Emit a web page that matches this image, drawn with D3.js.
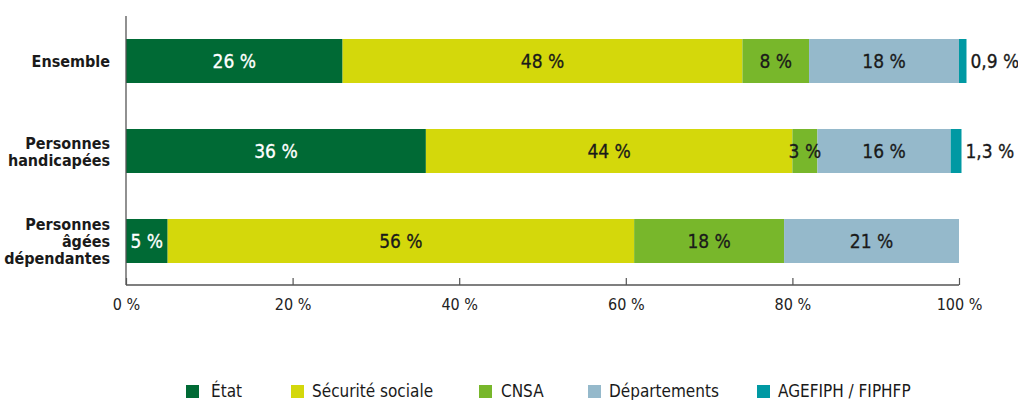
<!DOCTYPE html>
<html><head><meta charset="utf-8">
<script src="https://cdn.jsdelivr.net/npm/d3@7/dist/d3.min.js"></script>
<style>
html,body{margin:0;padding:0;background:#fff;}
svg{display:block;font-family:"DejaVu Sans Condensed","DejaVu Sans",sans-serif;}
</style></head>
<body><svg id="c" width="1018" height="400"></svg>
<script>
const categories = [["Ensemble"], ["Personnes", "handicapées"], ["Personnes", "âgées", "dépendantes"]];
const series = ["État", "Sécurité sociale", "CNSA", "Départements", "AGEFIPH / FIPHFP"];
const etat = [26, 36, 5];
const securite = [48, 44, 56];
const cnsa = [8, 3, 18];
const departements = [18, 16, 21];
const agefiph = [0.9, 1.3, 0];
const valueLabels = [["26 %", "48 %", "8 %", "18 %", "0,9 %"], ["36 %", "44 %", "3 %", "16 %", "1,3 %"], ["5 %", "56 %", "18 %", "21 %", ""]];
const ticks = [0, 20, 40, 60, 80, 100];
const tickLabels = ["0 %", "20 %", "40 %", "60 %", "80 %", "100 %"];
const colors = ["#006a35", "#d4d80b", "#78b72b", "#95b9cb", "#0099a3"];

const svg = d3.select("#c");
const x = d3.scaleLinear().domain([0, 100]).range([126, 959]);
const y = d3.scaleBand().domain(d3.range(categories.length)).range([16, 286]).paddingInner(0.5111).paddingOuter(0.2556);

const cols = [etat, securite, cnsa, departements, agefiph];
const rows = categories.map((c, i) => {
  const vals = cols.map(a => a[i]);
  let acc = 0;
  return vals.map((v, k) => { const s = acc; acc += v; return {i, k, v, x0: s, x1: acc, label: valueLabels[i][k]}; });
});

const g = svg.append("g");
rows.forEach(r => {
  g.selectAll(null).data(r.filter(d => d.v > 0)).enter().append("rect")
    .attr("x", d => x(d.x0)).attr("width", d => x(d.x1) - x(d.x0))
    .attr("y", d => y(d.i)).attr("height", y.bandwidth())
    .attr("fill", d => colors[d.k]);
  g.selectAll(null).data(r.filter(d => d.label)).enter().append("text")
    .attr("x", d => d.k === 4 ? x(d.x1) + 4 : (x(d.x0) + x(d.x1)) / 2)
    .attr("y", d => y(d.i) + y.bandwidth() / 2 + 7)
    .attr("text-anchor", d => d.k === 4 ? "start" : "middle")
    .attr("font-size", 19)
    .attr("fill", d => d.k === 0 ? "#fff" : "#1a1a1a")
    .attr("stroke", d => d.k === 0 ? "#fff" : "#1a1a1a").attr("stroke-width", 0.3)
    .text(d => d.label);
});

// axes
const xAxis = d3.axisBottom(x).tickValues(ticks).tickFormat((d, i) => tickLabels[i]).tickSize(-7).tickPadding(14);
const ax = svg.append("g").attr("transform", "translate(0,285)").call(xAxis);
ax.select(".domain").attr("stroke", "#555").attr("stroke-width", 1.3).attr("d", `M${x(0)},0H${x(100)}`);
ax.selectAll(".tick line").attr("stroke", "#555").attr("stroke-width", 1.2);
ax.selectAll(".tick text").attr("font-size", 16).attr("fill", "#222").attr("font-family", "DejaVu Sans Condensed, sans-serif");

svg.append("line").attr("x1", x(0)).attr("x2", x(0)).attr("y1", 16).attr("y2", 285)
  .attr("stroke", "#555").attr("stroke-width", 1.3);

// category labels
categories.forEach((lines, i) => {
  const cy = y(i) + y.bandwidth() / 2;
  const lh = 17;
  const t = svg.append("text").attr("text-anchor", "end").attr("font-weight", "bold")
    .attr("font-size", 16).attr("fill", "#1a1a1a");
  lines.forEach((l, j) => {
    t.append("tspan").attr("x", 110)
      .attr("y", cy + 6 + (j - (lines.length - 1) / 2) * lh).text(l);
  });
});

// legend
const legendSq = [186, 291, 479, 588, 757];
const legendTx = [211, 312, 501, 609, 778];
const lg = svg.append("g");
series.forEach((s, k) => {
  lg.append("rect").attr("x", legendSq[k]).attr("y", 385).attr("width", 13).attr("height", 13).attr("fill", colors[k]);
  lg.append("text").attr("x", legendTx[k]).attr("y", 397).attr("font-size", 17).attr("fill", "#1a1a1a").text(s);
});
</script></body></html>
